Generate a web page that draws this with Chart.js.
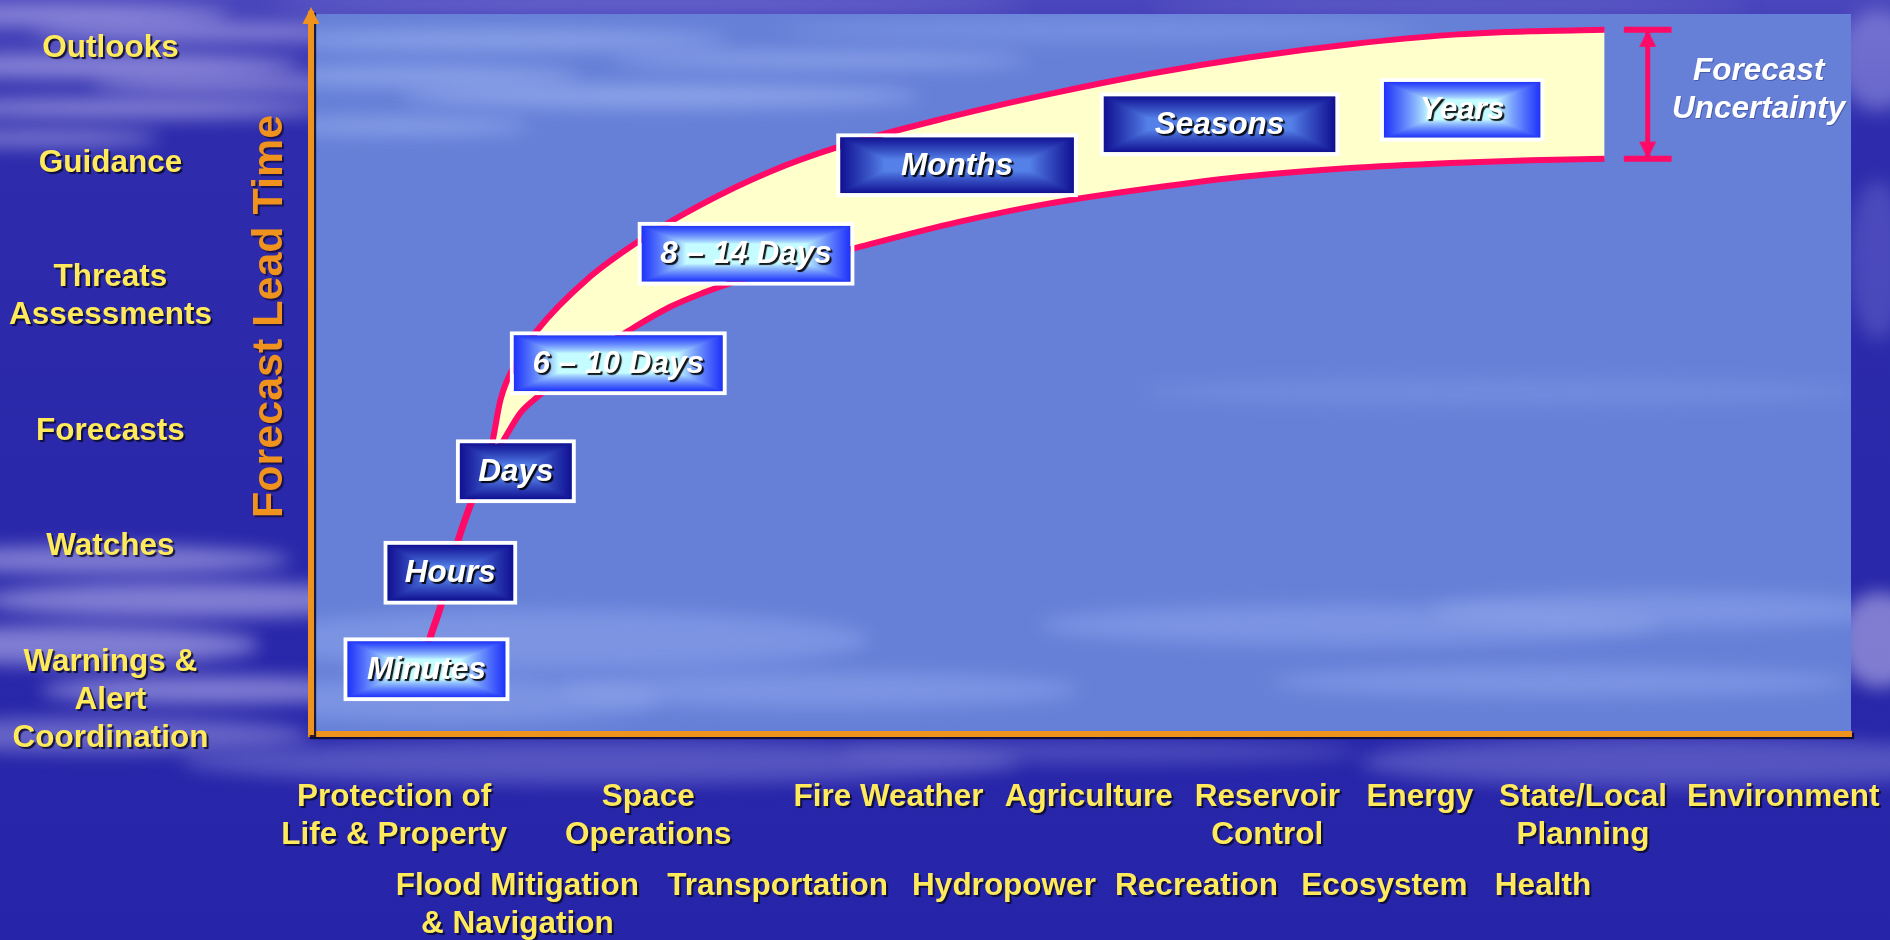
<!DOCTYPE html>
<html>
<head>
<meta charset="utf-8">
<title>Forecast Lead Time</title>
<script src="https://cdn.jsdelivr.net/npm/chart.js@4.4.1/dist/chart.umd.min.js"></script>
<style>
    html, body { margin: 0; padding: 0; background: #2a28aa; overflow: hidden; }
    #wrap { width: 1890px; height: 940px; }
</style>
</head>
<body>
<div id="wrap"><canvas id="leadChart" width="1890" height="940"></canvas></div>
<script>
// ============================================
// DATA - both axes use an abstract 0-100 scale
// ============================================

// products along the lead-time axis (y)
const leadLevels = [4.7, 26.1, 42.1, 60.8, 79.3, 95.3];
const leadLabels = [
    ['Warnings &', 'Alert', 'Coordination'],
    'Watches',
    'Forecasts',
    ['Threats', 'Assessments'],
    'Guidance',
    'Outlooks',
];

// user sectors under the x axis, two staggered rows
const sectorTopAt = [5.4, 21.9, 37.5, 50.5, 62.1, 72.0, 82.6, 95.6];
const sectorTopNames = [
    ['Protection of', 'Life & Property'],
    ['Space', 'Operations'],
    'Fire Weather',
    'Agriculture',
    ['Reservoir', 'Control'],
    'Energy',
    ['State/Local', 'Planning'],
    'Environment',
];
const sectorLowAt = [13.4, 30.3, 45.0, 57.5, 69.7, 80.0];
const sectorLowNames = [
    ['Flood Mitigation', '& Navigation'],
    'Transportation',
    'Hydropower',
    'Recreation',
    'Ecosystem',
    'Health',
];

// single line for the short ranges
const stemX = [7.3, 7.8, 8.4, 9.0, 9.6, 10.4, 11.3];
const stemY = [10.3, 13.8, 17.6, 22.5, 27.2, 32.1, 36.9];

// uncertainty band, upper and lower edge
const upperX = [11.3, 11.8, 12.3, 13.4, 14.7, 17.9, 21.4, 25.3, 29.8, 34.2, 41.5, 48.0, 54.5, 61.0, 67.5, 74.0, 79.2, 84.0];
const upperY = [36.9, 40.8, 46.4, 51.9, 56.1, 63.1, 68.6, 73.5, 78.1, 81.5, 85.7, 88.9, 91.7, 94.0, 95.8, 97.1, 97.6, 97.8];
const lowerX = [11.3, 12.5, 13.6, 14.7, 17.5, 20.7, 23.3, 25.5, 27.2, 31.1, 35.5, 42.0, 47.7, 54.5, 61.0, 67.5, 74.0, 79.2, 84.0];
const lowerY = [36.9, 40.8, 44.6, 46.8, 51.7, 56.1, 59.3, 61.3, 62.6, 65.1, 67.6, 71.1, 73.6, 75.8, 77.5, 78.6, 79.3, 79.7, 79.9];

// forecast ranges (boxes)
const rangeNames = ['Minutes', 'Hours', 'Days', '6 – 10 Days', '8 – 14 Days', 'Months', 'Seasons', 'Years'];
const rangeStart = [2.1, 4.7, 9.4, 12.9, 21.2, 34.1, 51.2, 69.4];
const rangeEnd = [12.9, 13.4, 17.2, 27.0, 35.3, 49.8, 66.8, 80.1];
const rangeLevel = [9.0, 22.4, 36.5, 51.5, 66.7, 79.0, 84.7, 86.7];

// where the "forecast uncertainty" marker stands
const uncertaintyAt = 86.8;

// ============================================
// STYLE
// ============================================
const PINK = '#ff0a66';
const ORANGE = '#f0921e';
const YELLOW = '#ffea5c';
const BAND = '#ffffcc';
const FONT = "'Liberation Sans', Arial, Helvetica, sans-serif";
const LABEL_SIZE = 31.5;
const BOX_H = 64;
const BOX_EDGE = 4;
const CAP_HALF = 1.55;
const rangeTone = ['light', 'dark', 'dark', 'light', 'light', 'dark', 'dark', 'light'];
const TONES = {
    light: { center: [196, 252, 255], edge: [30, 50, 250], side: 44, cap: 18, gamma: 0.8 },
    dark: { center: [84, 128, 232], edge: [16, 16, 146], side: 44, cap: 22, gamma: 0.9 },
};

const toPoints = (xs, ys) => xs.map((x, i) => ({ x, y: ys[i] }));
const upperEnd = upperY[upperY.length - 1];
const lowerEnd = lowerY[lowerY.length - 1];

// rectangular "from centre" gradient like the slide boxes
const fillCache = {};
function boxTile(w, h, tone) {
    w = Math.max(1, Math.round(w));
    h = Math.max(1, Math.round(h));
    const key = tone + ':' + w + 'x' + h;
    if (fillCache[key]) return fillCache[key];

    const c = document.createElement('canvas');
    c.width = w;
    c.height = h;
    const g = c.getContext('2d');
    const img = g.createImageData(w, h);
    const { center, edge, side, cap, gamma } = TONES[tone];
    const hw = w / 2, hh = h / 2;
    const sideRamp = Math.min(side, hw), capRamp = Math.min(cap, hh);
    for (let y = 0; y < h; y++) {
        for (let x = 0; x < w; x++) {
            const sx = (Math.abs(x + 0.5 - hw) - (hw - sideRamp)) / sideRamp;
            const sy = (Math.abs(y + 0.5 - hh) - (hh - capRamp)) / capRamp;
            let t = Math.min(1, Math.max(0, sx, sy));
            t = Math.pow(t, gamma);
            const i = (y * w + x) * 4;
            for (let k = 0; k < 3; k++) img.data[i + k] = center[k] + (edge[k] - center[k]) * t;
            img.data[i + 3] = 255;
        }
    }
    g.putImageData(img, 0, 0);
    fillCache[key] = c;
    return c;
}

function boxBackground(context) {
    const raw = context.raw;
    const chart = context.chart;
    const fallback = 'rgb(' + TONES.dark.edge.join(',') + ')';
    if (!raw || !chart.scales.x || !chart.scales.y) return fallback;
    const { x, y } = chart.scales;
    const a = x.getPixelForValue(raw.x[0]);
    const b = x.getPixelForValue(raw.x[1]);
    const cy = y.getPixelForValue(raw.y);
    if (![a, b, cy].every(Number.isFinite) || Math.abs(b - a) < 2 * BOX_EDGE + 2) return fallback;
    const left = Math.min(a, b), right = Math.max(a, b);
    const top = cy - BOX_H / 2;
    const tile = boxTile(right - left - 2 * BOX_EDGE, BOX_H - 2 * BOX_EDGE, rangeTone[context.dataIndex]);
    const pattern = chart.ctx.createPattern(tile, 'no-repeat');
    pattern.setTransform(new DOMMatrix().translate(left + BOX_EDGE, top + BOX_EDGE));
    return pattern;
}

// arrow head image, tip in the centre so it sits right on the data point
function arrowTip(w, h, color) {
    const c = document.createElement('canvas');
    c.width = Math.ceil(w) + 2;
    c.height = Math.ceil(h) * 2 + 2;
    const g = c.getContext('2d');
    const cx = c.width / 2, cy = c.height / 2;
    g.fillStyle = color;
    g.beginPath();
    g.moveTo(cx, cy);
    g.lineTo(cx + w / 2, cy + h);
    g.lineTo(cx - w / 2, cy + h);
    g.closePath();
    g.fill();
    return c;
}

// soft cloud streaks for the slide background
function streaks(ctx, list, blur) {
    ctx.save();
    ctx.filter = 'blur(' + blur + 'px)';
    list.forEach(([cx, cy, rx, ry, color]) => {
        ctx.fillStyle = color;
        ctx.beginPath();
        ctx.ellipse(cx, cy, rx, ry, 0, 0, Math.PI * 2);
        ctx.fill();
    });
    ctx.restore();
}

const backdropPlugin = {
    id: 'backdrop',
    beforeDraw(chart) {
        const { ctx, chartArea: ca, width, height } = chart;

        // slide
        const bg = ctx.createLinearGradient(0, 0, 0, height);
        bg.addColorStop(0, '#4a46bc');
        bg.addColorStop(0.14, '#2e2cac');
        bg.addColorStop(1, '#2624a8');
        ctx.fillStyle = bg;
        ctx.fillRect(0, 0, width, height);

        const haze = 'rgba(200,196,246,0.55)';
        streaks(ctx, [
            [60, 15, 170, 10, haze], [210, 32, 180, 8, haze], [90, 66, 210, 12, haze],
            [240, 84, 150, 8, haze], [120, 108, 210, 10, haze], [40, 138, 120, 8, haze],
            [650, 4, 380, 8, 'rgba(150,150,232,0.45)'], [1450, 5, 300, 7, 'rgba(150,150,232,0.35)'],
            [100, 560, 190, 14, haze], [190, 600, 210, 18, haze], [70, 645, 190, 20, haze],
            [210, 690, 170, 14, haze], [100, 735, 210, 18, 'rgba(180,176,238,0.45)'],
            [600, 762, 420, 22, 'rgba(140,140,222,0.45)'], [1100, 752, 260, 12, 'rgba(140,140,222,0.35)'],
            [1680, 762, 320, 25, 'rgba(140,140,222,0.45)'],
            [1878, 60, 40, 50, 'rgba(160,160,232,0.5)'], [1878, 260, 30, 80, 'rgba(120,120,212,0.4)'],
            [1880, 640, 42, 48, 'rgba(200,196,242,0.55)'],
        ], 9);

        // chart panel
        ctx.save();
        ctx.beginPath();
        ctx.rect(ca.left, ca.top, ca.width, ca.height);
        ctx.clip();
        ctx.fillStyle = '#6680d8';
        ctx.fillRect(ca.left, ca.top, ca.width, ca.height);
        const light = 'rgba(168,190,246,0.55)';
        const soft = 'rgba(150,174,240,0.45)';
        streaks(ctx, [
            [500, 40, 230, 10, light], [420, 76, 160, 10, light], [660, 96, 260, 12, light],
            [400, 126, 130, 8, light], [820, 60, 210, 8, light], [1100, 30, 320, 12, 'rgba(140,165,235,0.4)'],
            [560, 640, 310, 30, soft], [450, 700, 210, 22, soft], [820, 690, 260, 18, soft],
            [1350, 625, 310, 20, soft], [1660, 610, 230, 18, soft], [1560, 682, 290, 15, soft],
            [1500, 392, 360, 14, 'rgba(130,155,232,0.4)'],
        ], 9);
        ctx.restore();

        // shadow for the tick labels and axis lines drawn next
        ctx.shadowColor = 'rgba(8,8,40,0.85)';
        ctx.shadowOffsetX = 2;
        ctx.shadowOffsetY = 2;
        ctx.shadowBlur = 1;
    },
    beforeDatasetsDraw(chart) {
        const ctx = chart.ctx;
        ctx.shadowColor = 'rgba(0,0,0,0)';
        ctx.shadowOffsetX = 0;
        ctx.shadowOffsetY = 0;
        ctx.shadowBlur = 0;
    },
    afterDatasetsDraw(chart) {
        // text inside the range boxes
        const meta = chart.getDatasetMeta(chart.data.datasets.length - 1);
        const ctx = chart.ctx;
        ctx.save();
        ctx.font = 'italic bold ' + LABEL_SIZE + 'px ' + FONT;
        ctx.textAlign = 'center';
        ctx.textBaseline = 'middle';
        ctx.fillStyle = '#ffffff';
        ctx.shadowColor = 'rgba(0,0,0,0.9)';
        ctx.shadowOffsetX = 2;
        ctx.shadowOffsetY = 2;
        ctx.shadowBlur = 1;
        meta.data.forEach((bar, i) => {
            const { x, y, base } = bar.getProps(['x', 'y', 'base'], true);
            ctx.fillText(rangeNames[i], (x + base) / 2, y + 1);
        });
        ctx.restore();
    },
    afterDraw(chart) {
        const { ctx, chartArea: ca, scales } = chart;

        // arrow head on the lead-time axis
        ctx.save();
        ctx.fillStyle = ORANGE;
        ctx.beginPath();
        ctx.moveTo(ca.left, ca.top - 7);
        ctx.lineTo(ca.left + 8.5, ca.top + 10);
        ctx.lineTo(ca.left - 8.5, ca.top + 10);
        ctx.closePath();
        ctx.fill();
        ctx.restore();

        // axis title
        ctx.save();
        ctx.translate(ca.left - 29, ca.top + ca.height * 0.42);
        ctx.rotate(-Math.PI / 2);
        ctx.font = 'bold 43px ' + FONT;
        ctx.textAlign = 'center';
        ctx.textBaseline = 'alphabetic';
        ctx.fillStyle = ORANGE;
        ctx.shadowColor = 'rgba(20,10,60,0.8)';
        ctx.shadowOffsetX = 2;
        ctx.shadowOffsetY = 2;
        ctx.shadowBlur = 1;
        ctx.fillText('Forecast Lead Time', 0, 0);
        ctx.restore();

        // uncertainty caption
        const tx = scales.x.getPixelForValue(uncertaintyAt) + 111;
        const ty = scales.y.getPixelForValue(upperEnd);
        ctx.save();
        ctx.font = 'italic bold ' + LABEL_SIZE + 'px ' + FONT;
        ctx.textAlign = 'center';
        ctx.textBaseline = 'middle';
        ctx.fillStyle = '#ffffff';
        ctx.shadowColor = 'rgba(20,20,80,0.35)';
        ctx.shadowOffsetX = 1;
        ctx.shadowOffsetY = 1;
        ctx.fillText('Forecast', tx, ty + 41);
        ctx.fillText('Uncertainty', tx, ty + 79);
        ctx.restore();
    },
};

const tickFont = { family: FONT, size: LABEL_SIZE, weight: 'bold', lineHeight: 1.206 };

function sectorAxis(positions, names, height, padding, weight, showBorder) {
    return {
        type: 'linear',
        position: 'bottom',
        weight: weight,
        min: 0,
        max: 100,
        offset: false,
        afterBuildTicks: (scale) => {
            scale.ticks = positions.map((v) => ({ value: v }));
        },
        afterFit: (scale) => {
            scale.height = height;
            scale.paddingLeft = 0;
            scale.paddingRight = 0;
        },
        grid: { display: false, drawTicks: false, offset: false },
        border: { display: showBorder, color: ORANGE, width: 6 },
        ticks: {
            autoSkip: false,
            maxRotation: 0,
            minRotation: 0,
            padding: padding,
            color: YELLOW,
            font: tickFont,
            callback: (value, index) => names[index],
        },
    };
}

const arrowHead = arrowTip(17, 17, PINK);

new Chart(document.getElementById('leadChart'), {
    type: 'line',
    data: {
        datasets: [
            {
                // upper edge, filled down to the lower edge
                data: toPoints(upperX, upperY),
                borderColor: PINK,
                borderWidth: 6,
                backgroundColor: BAND,
                fill: '+1',
                pointRadius: 0,
                cubicInterpolationMode: 'monotone',
                order: 4,
            },
            {
                data: toPoints(lowerX, lowerY),
                borderColor: PINK,
                borderWidth: 6,
                fill: false,
                pointRadius: 0,
                cubicInterpolationMode: 'monotone',
                order: 3,
            },
            {
                data: toPoints(stemX, stemY),
                borderColor: PINK,
                borderWidth: 7,
                fill: false,
                pointRadius: 0,
                cubicInterpolationMode: 'monotone',
                order: 5,
            },
            {
                data: [{ x: uncertaintyAt - CAP_HALF, y: upperEnd }, { x: uncertaintyAt + CAP_HALF, y: upperEnd }],
                borderColor: PINK,
                borderWidth: 6,
                borderCapStyle: 'butt',
                pointRadius: 0,
                order: 2,
            },
            {
                data: [{ x: uncertaintyAt - CAP_HALF, y: lowerEnd }, { x: uncertaintyAt + CAP_HALF, y: lowerEnd }],
                borderColor: PINK,
                borderWidth: 6,
                borderCapStyle: 'butt',
                pointRadius: 0,
                order: 2,
            },
            {
                data: [{ x: uncertaintyAt, y: upperEnd }, { x: uncertaintyAt, y: lowerEnd }],
                borderColor: PINK,
                borderWidth: 5,
                borderCapStyle: 'butt',
                pointStyle: arrowHead,
                pointRotation: [0, 180],
                pointRadius: 10,
                pointBorderWidth: 0,
                order: 2,
            },
            {
                type: 'bar',
                indexAxis: 'y',
                data: rangeNames.map((_, i) => ({ x: [rangeStart[i], rangeEnd[i]], y: rangeLevel[i] })),
                backgroundColor: boxBackground,
                borderColor: '#ffffff',
                borderWidth: BOX_EDGE,
                borderSkipped: false,
                inflateAmount: 0,
                barThickness: BOX_H,
                grouped: false,
                order: 0,
            },
        ],
    },
    options: {
        responsive: false,
        animation: false,
        devicePixelRatio: 1,
        events: [],
        layout: { autoPadding: false, padding: { left: 0, right: 39, top: 14, bottom: 0 } },
        plugins: {
            legend: { display: false },
            tooltip: { enabled: false },
            title: { display: false },
        },
        scales: {
            x: sectorAxis(sectorTopAt, sectorTopNames, 120, 44, 0, true),
            x2: sectorAxis(sectorLowAt, sectorLowNames, 86, 13, 1, false),
            y: {
                type: 'linear',
                position: 'left',
                min: 0,
                max: 100,
                offset: false,
                afterBuildTicks: (scale) => {
                    scale.ticks = leadLevels.map((v) => ({ value: v }));
                },
                afterFit: (scale) => {
                    scale.width = 311;
                    scale.paddingTop = 0;
                    scale.paddingBottom = 0;
                },
                grid: { display: false, drawTicks: false, offset: false },
                border: { display: true, color: ORANGE, width: 6 },
                ticks: {
                    autoSkip: false,
                    crossAlign: 'center',
                    padding: 99,
                    color: YELLOW,
                    font: tickFont,
                    callback: (value, index) => leadLabels[index],
                },
            },
        },
    },
    plugins: [backdropPlugin],
});
</script>
</body>
</html>
